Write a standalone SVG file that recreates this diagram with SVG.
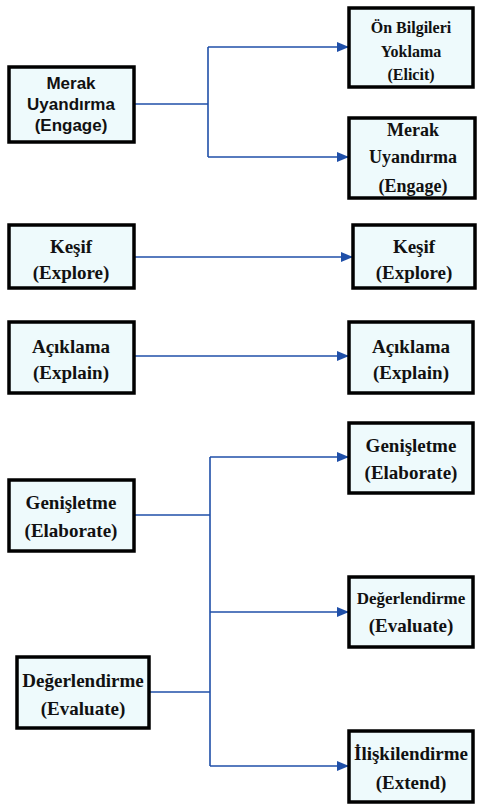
<svg xmlns="http://www.w3.org/2000/svg" width="477" height="805" viewBox="0 0 477 805">
<defs>
<marker id="arr" markerWidth="12" markerHeight="10" refX="11" refY="5" orient="auto" markerUnits="userSpaceOnUse">
<path d="M0,0 L12,5 L0,10 Z" fill="#1f4fa8"/>
</marker>
<style>
.box{fill:#eefafc;stroke:#000;stroke-width:3.5}
.t{font-family:"Liberation Serif","Times New Roman",serif;font-weight:bold;fill:#111;text-anchor:middle;dominant-baseline:central}
.s{font-family:"Liberation Sans",Arial,sans-serif;font-weight:bold;fill:#111;text-anchor:middle;dominant-baseline:central}
.c{fill:none;stroke:#1f4fa8;stroke-width:1.6}
</style>
</defs>
<rect width="477" height="805" fill="#fff"/>
<g id="connectors">
<path class="c" d="M134,104 H208"/>
<path class="c" d="M208,47 V157"/>
<path class="c" d="M208,47 H348" marker-end="url(#arr)"/>
<path class="c" d="M208,157 H348" marker-end="url(#arr)"/>
<path class="c" d="M134,257 H352" marker-end="url(#arr)"/>
<path class="c" d="M134,356 H348" marker-end="url(#arr)"/>
<path class="c" d="M134,515 H210"/>
<path class="c" d="M149,692 H210"/>
<path class="c" d="M210,457 V766"/>
<path class="c" d="M210,457 H348" marker-end="url(#arr)"/>
<path class="c" d="M210,612 H348" marker-end="url(#arr)"/>
<path class="c" d="M210,766 H348" marker-end="url(#arr)"/>
</g>
<g id="n1">
<rect class="box" x="9" y="67" width="125" height="75"/>
<text class="s" x="71" y="83" font-size="17">Merak</text>
<text class="s" x="71" y="104" font-size="17">Uyandırma</text>
<text class="s" x="71" y="125" font-size="17">(Engage)</text>
</g>
<g id="n2">
<rect class="box" x="349" y="8" width="124" height="79"/>
<text class="t" x="411" y="27" font-size="16">Ön Bilgileri</text>
<text class="t" x="411" y="51" font-size="16">Yoklama</text>
<text class="t" x="411" y="74" font-size="16">(Elicit)</text>
</g>
<g id="n3">
<rect class="box" x="349" y="118" width="126" height="80"/>
<text class="t" x="413" y="130" font-size="18">Merak</text>
<text class="t" x="413" y="157" font-size="18">Uyandırma</text>
<text class="t" x="413" y="186" font-size="18">(Engage)</text>
</g>
<g id="n4">
<rect class="box" x="9" y="225" width="125" height="63"/>
<text class="t" x="71" y="246" font-size="19">Keşif</text>
<text class="t" x="71" y="272" font-size="19">(Explore)</text>
</g>
<g id="n5">
<rect class="box" x="353" y="225" width="122" height="63"/>
<text class="t" x="414" y="246" font-size="19">Keşif</text>
<text class="t" x="414" y="272" font-size="19">(Explore)</text>
</g>
<g id="n6">
<rect class="box" x="9" y="322" width="125" height="71"/>
<text class="t" x="71" y="346" font-size="19">Açıklama</text>
<text class="t" x="71" y="372" font-size="19">(Explain)</text>
</g>
<g id="n7">
<rect class="box" x="349" y="322" width="124" height="71"/>
<text class="t" x="411" y="346" font-size="19">Açıklama</text>
<text class="t" x="411" y="372" font-size="19">(Explain)</text>
</g>
<g id="n8">
<rect class="box" x="9" y="480" width="125" height="71"/>
<text class="t" x="71" y="502" font-size="19">Genişletme</text>
<text class="t" x="71" y="530" font-size="19">(Elaborate)</text>
</g>
<g id="n9">
<rect class="box" x="349" y="423" width="124" height="70"/>
<text class="t" x="411" y="445" font-size="19">Genişletme</text>
<text class="t" x="411" y="472" font-size="19">(Elaborate)</text>
</g>
<g id="n10">
<rect class="box" x="349" y="577" width="124" height="70"/>
<text class="t" x="411" y="598" font-size="17">Değerlendirme</text>
<text class="t" x="411" y="625" font-size="19">(Evaluate)</text>
</g>
<g id="n11">
<rect class="box" x="17" y="657" width="132" height="71"/>
<text class="t" x="83" y="680" font-size="19">Değerlendirme</text>
<text class="t" x="83" y="708" font-size="19">(Evaluate)</text>
</g>
<g id="n12">
<rect class="box" x="349" y="731" width="124" height="71"/>
<text class="t" x="411" y="753" font-size="19">İlişkilendirme</text>
<text class="t" x="411" y="782" font-size="19">(Extend)</text>
</g>
</svg>
